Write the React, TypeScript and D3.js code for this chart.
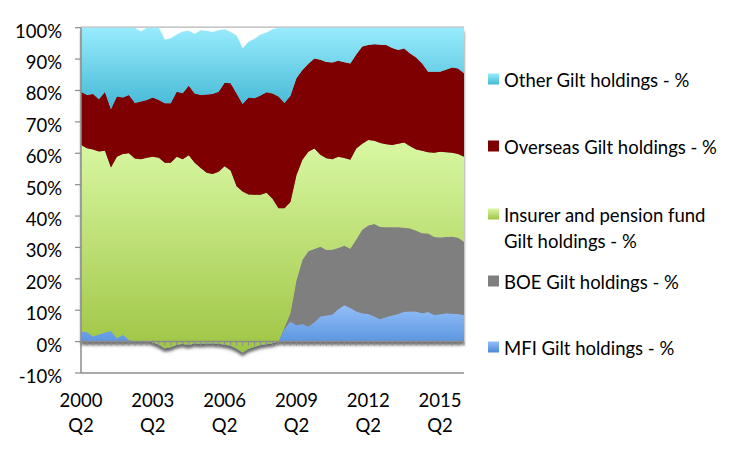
import React from 'react';
import * as d3 from 'd3';

const quarters = [
  '2000 Q2','2000 Q3','2000 Q4','2001 Q1','2001 Q2','2001 Q3','2001 Q4','2002 Q1',
  '2002 Q2','2002 Q3','2002 Q4','2003 Q1','2003 Q2','2003 Q3','2003 Q4','2004 Q1',
  '2004 Q2','2004 Q3','2004 Q4','2005 Q1','2005 Q2','2005 Q3','2005 Q4','2006 Q1',
  '2006 Q2','2006 Q3','2006 Q4','2007 Q1','2007 Q2','2007 Q3','2007 Q4','2008 Q1',
  '2008 Q2','2008 Q3','2008 Q4','2009 Q1','2009 Q2','2009 Q3','2009 Q4','2010 Q1',
  '2010 Q2','2010 Q3','2010 Q4','2011 Q1','2011 Q2','2011 Q3','2011 Q4','2012 Q1',
  '2012 Q2','2012 Q3','2012 Q4','2013 Q1','2013 Q2','2013 Q3','2013 Q4','2014 Q1',
  '2014 Q2','2014 Q3','2014 Q4','2015 Q1','2015 Q2','2015 Q3','2015 Q4','2016 Q1',
  '2016 Q2',
];

const xTickLabels = ['2000 Q2', '2003 Q2', '2006 Q2', '2009 Q2', '2012 Q2', '2015 Q2'];
const yTickValues = [-10, 0, 10, 20, 30, 40, 50, 60, 70, 80, 90, 100];

const mfi = [
  3.2, 3.0, 1.6, 2.3, 2.9, 3.4, 1.1, 2.1, 0.5, 0, 0.2, 0.3, -0.2, -1.0, -2.1, -1.8,
  -1.0, -0.7, -1.1, -0.5, -0.7, -0.5, -0.5, -0.7, -0.9, -1.3, -2.2, -3.5, -2.3, -1.6, -1.1, -0.8,
  -0.5, 0, 4.0, 6.4, 5.2, 5.6, 4.8, 6.2, 8.0, 8.3, 8.6, 10.3, 11.6, 10.7, 9.6, 9.0,
  8.8, 8.0, 7.1, 7.8, 8.3, 8.8, 9.5, 9.6, 9.6, 9.0, 9.4, 8.5, 8.7, 9.0, 8.9, 8.8,
  8.5,
];
const boe = [
  0, 0, 0, 0, 0, 0, 0, 0, 0, 0, 0, 0, 0, 0, 0, 0,
  0, 0, 0, 0, 0, 0, 0, 0, 0, 0, 0, 0, 0, 0, 0, 0,
  0, 0, 0.5, 2.6, 14.3, 20.4, 24.0, 23.3, 22.2, 20.9, 20.7, 19.5, 18.9, 18.9, 22.9, 26.6,
  28.2, 29.5, 29.4, 28.6, 28.1, 27.6, 26.8, 26.4, 25.7, 25.5, 25.0, 24.8, 24.5, 24.3, 24.5, 24.3,
  23.3,
];
const insurer = [
  59.4, 58.6, 59.6, 58.3, 57.9, 52.1, 57.8, 57.7, 59.5, 58.3, 57.9, 58.3, 59.1, 59.6, 59.1, 58.8,
  59.9, 58.8, 60.5, 57.5, 56.0, 54.3, 53.9, 54.8, 56.8, 55.8, 51.7, 51.3, 49.2, 48.4, 47.9, 48.2,
  46.0, 42.5, 38.0, 35.5, 33.5, 31.9, 31.7, 32.0, 29.3, 29.2, 28.8, 29.1, 28.0, 28.3, 29.0, 27.4,
  27.2, 26.5, 26.8, 26.5, 26.2, 26.6, 27.1, 26.2, 25.9, 26.3, 25.9, 26.9, 27.3, 27.0, 26.8, 26.7,
  27.1,
];
const overseas = [
  17.0, 17.0, 17.7, 16.6, 18.7, 18.5, 19.2, 18.0, 18.6, 17.7, 18.4, 18.4, 18.9, 18.4, 18.9, 18.9,
  20.7, 21.0, 22.1, 22.0, 23.3, 24.9, 25.5, 25.5, 26.6, 27.8, 29.5, 27.9, 30.9, 30.7, 31.6, 32.0,
  33.5, 35.6, 33.5, 33.8, 30.9, 28.6, 28.0, 28.7, 30.3, 30.7, 30.8, 30.6, 30.5, 30.7, 30.0, 31.0,
  30.3, 30.7, 31.3, 31.6, 30.9, 29.9, 30.0, 29.6, 29.3, 27.8, 25.7, 25.8, 25.5, 26.3, 27.1, 27.2,
  26.6,
];
const other = [
  20.4, 21.4, 21.1, 22.8, 20.5, 26.0, 21.9, 22.2, 21.4, 24.0, 22.3, 23.0, 22.2, 23.0, 20.3, 20.7,
  18.2, 19.7, 17.5, 19.0, 20.6, 20.3, 19.7, 19.6, 17.0, 16.3, 18.5, 17.7, 17.7, 19.0, 19.4, 19.1,
  20.5, 21.9, 24.0, 21.7, 16.1, 13.5, 11.5, 9.8, 10.2, 10.9, 11.1, 10.5, 11.0, 11.4, 8.5, 6.0,
  5.5, 5.3, 5.4, 5.5, 6.5, 7.1, 6.6, 8.2, 9.5, 11.4, 14.0, 14.0, 14.0, 13.4, 12.7, 13.0,
  14.5,
];

const seriesKeys = ['mfi', 'boe', 'insurer', 'overseas', 'other'];
const legendItems = [
  { key: 'other', lines: ['Other Gilt holdings - %'] },
  { key: 'overseas', lines: ['Overseas Gilt holdings - %'] },
  { key: 'insurer', lines: ['Insurer and pension fund', 'Gilt holdings - %'] },
  { key: 'boe', lines: ['BOE Gilt holdings - %'] },
  { key: 'mfi', lines: ['MFI Gilt holdings - %'] },
];

const FILLS: Record<string, string> = {
  mfi: 'url(#g-mfi)',
  boe: '#7f7f7f',
  insurer: 'url(#g-ins)',
  overseas: '#7f0000',
  other: 'url(#g-oth)',
};

const FONT = 'Lato, "Open Sans", sans-serif';

export default function App() {
  const rows = quarters.map((q, i) => ({
    q,
    mfi: mfi[i],
    boe: boe[i],
    insurer: insurer[i],
    overseas: overseas[i],
    other: other[i],
  }));
  const stacked = d3
    .stack<any>()
    .keys(seriesKeys)
    .order(d3.stackOrderNone)
    .offset(d3.stackOffsetNone)(rows);

  const x = d3.scalePoint<string>().domain(quarters).range([81, 464]);
  const y = d3.scaleLinear().domain([-10, 100]).range([373, 27.7]);

  const area = d3
    .area<any>()
    .x((d) => x(d.data.q) as number)
    .y0((d) => y(d[0]))
    .y1((d) => y(d[1]));

  const axisColor = '#8c8c8c';
  const legendY = [79, 146, 214, 281, 347];

  return (
    <svg
      width={751}
      height={451}
      style={{ position: 'absolute', left: 0, top: 0, background: '#fff' }}
      fontFamily={FONT}
    >
      <defs>
        <linearGradient id="g-oth" x1="0" y1="0" x2="0" y2="1">
          <stop offset="0" stopColor="#98ecfd" />
          <stop offset="1" stopColor="#44b8d5" />
        </linearGradient>
        <linearGradient id="g-ins" x1="0" y1="0" x2="0" y2="1">
          <stop offset="0" stopColor="#d9f8a3" />
          <stop offset="1" stopColor="#9fc544" />
        </linearGradient>
        <linearGradient id="g-mfi" x1="0" y1="0" x2="0" y2="1">
          <stop offset="0" stopColor="#93bff9" />
          <stop offset="1" stopColor="#4d89d8" />
        </linearGradient>
        <filter id="shadow" x="-5%" y="-5%" width="110%" height="115%">
          <feDropShadow dx="0" dy="3.5" stdDeviation="1.8" floodColor="#000" floodOpacity="0.6" />
        </filter>
      </defs>

      {/* top and bottom frame lines */}
      <line x1={81} x2={464} y1={y(100) - 0.5} y2={y(100) - 0.5} stroke="#b5b5b5" strokeWidth={1.2} />
      <line x1={81} x2={464} y1={y(-10)} y2={y(-10)} stroke={axisColor} strokeWidth={1.5} />

      <g filter="url(#shadow)">
        {stacked.map((s) => (
          <path key={s.key} d={area(s as any) || ''} fill={FILLS[s.key]} />
        ))}
      </g>

      {/* category axis at zero */}
      <line x1={81} x2={464} y1={y(0)} y2={y(0)} stroke={axisColor} strokeWidth={1.5} />
      {quarters.map((q) => (
        <line
          key={q}
          x1={x(q)}
          x2={x(q)}
          y1={y(0)}
          y2={y(0) + 4}
          stroke={axisColor}
          strokeWidth={1}
        />
      ))}

      {/* value axis */}
      <line x1={81} x2={81} y1={y(100)} y2={y(-10)} stroke={axisColor} strokeWidth={1.5} />
      {yTickValues.map((v) => (
        <g key={v}>
          <line x1={75} x2={81} y1={y(v)} y2={y(v)} stroke={axisColor} strokeWidth={1.2} />
          <text
            x={62}
            y={y(v) + 3}
            textAnchor="end"
            dominantBaseline="central"
            fontSize={18.5}
            fill="#000"
          >
            {`${v}%`}
          </text>
        </g>
      ))}

      {xTickLabels.map((lbl) => {
        const [yr, qt] = lbl.split(' ');
        const cx = x(lbl) as number;
        return (
          <g key={lbl}>
            <text x={cx} y={400} textAnchor="middle" dominantBaseline="central" fontSize={18.5}>
              {yr}
            </text>
            <text x={cx} y={425} textAnchor="middle" dominantBaseline="central" fontSize={18.5}>
              {qt}
            </text>
          </g>
        );
      })}

      {legendItems.map((it, i) => (
        <g key={it.key}>
          <rect x={488} y={legendY[i] - 5.5} width={11} height={11} fill={FILLS[it.key]} />
          {it.lines.map((ln, j) => (
            <text
              key={j}
              x={504}
              y={legendY[i] + 1 + j * 26}
              dominantBaseline="central"
              fontSize={18.5}
              fill="#000"
            >
              {ln}
            </text>
          ))}
        </g>
      ))}
    </svg>
  );
}
